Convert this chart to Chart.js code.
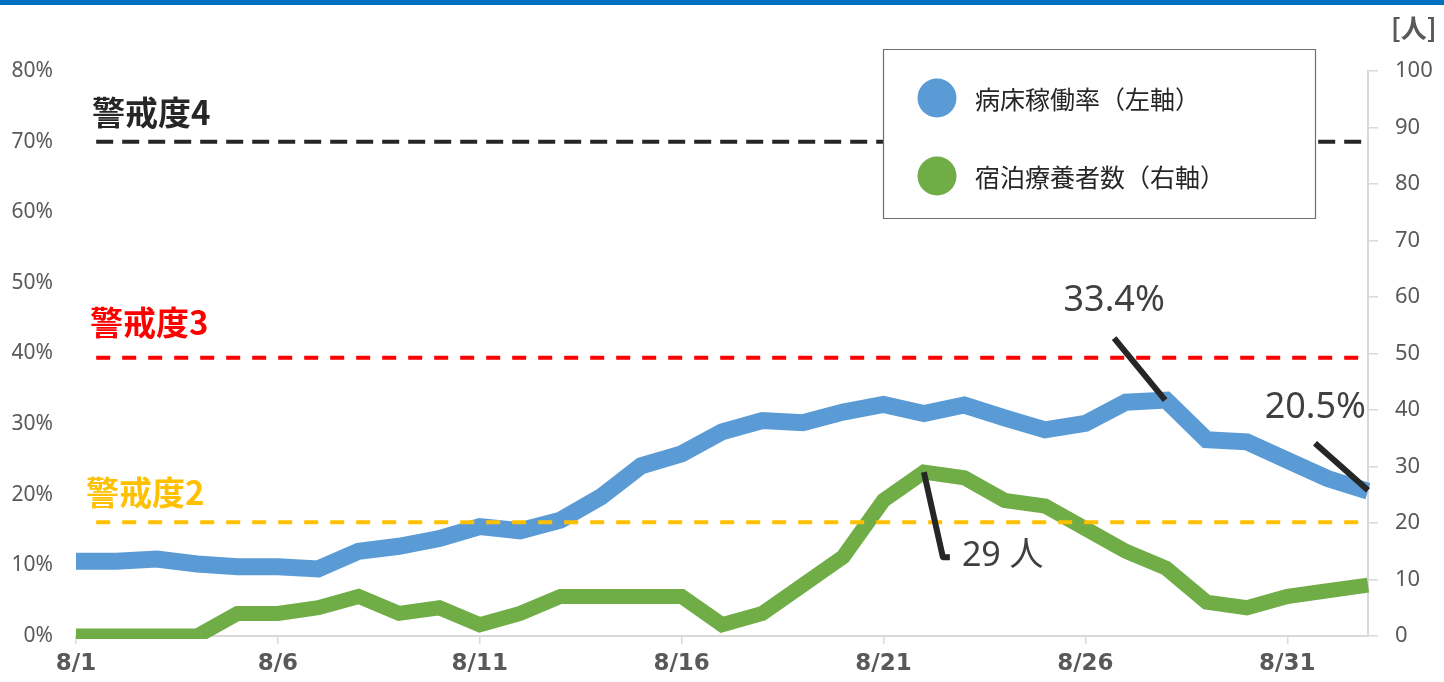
<!DOCTYPE html>
<html><head><meta charset="utf-8">
<script src="https://cdn.jsdelivr.net/npm/chart.js@4.4.1/dist/chart.umd.min.js"></script>
<style>html,body{margin:0;padding:0;background:#fff;overflow:hidden}#wrap{width:1444px;height:682px;position:relative}</style>
</head><body><div id="wrap"><canvas id="c" width="1444" height="682"></canvas></div>
<script>
const dates = ['8/1','8/2','8/3','8/4','8/5','8/6','8/7','8/8','8/9','8/10','8/11','8/12','8/13','8/14','8/15','8/16','8/17','8/18','8/19','8/20','8/21','8/22','8/23','8/24','8/25','8/26','8/27','8/28','8/29','8/30','8/31','9/1','9/2'];
const bedRate = [10.6,10.6,10.9,10.2,9.8,9.8,9.5,12.0,12.7,13.8,15.5,14.9,16.4,19.7,24.1,25.8,28.9,30.5,30.2,31.7,32.8,31.5,32.7,30.9,29.2,30.1,33.1,33.4,27.8,27.5,24.9,22.3,20.5];
const hotelPatients = [0,0,0,0,4,4,5,7,4,5,2,4,7,7,7,7,2,4,9,14,24,29,28,24,23,19,15,12,6,5,7,8,9];
const seriesNames = ['病床稼働率（左軸）','宿泊療養者数（右軸）'];
const alertNames = ['警戒度4','警戒度3','警戒度2'];
const alertValues = [70, 39.4, 16.1];
const alertSpan = [0.5, 31.9];
const leftTicks = [0,10,20,30,40,50,60,70,80];
const rightTicks = [0,10,20,30,40,50,60,70,80,90,100];
const rightUnit = '[人]';

const BLUE = '#5B9BD5', GREEN = '#70AD47';
const alertColors = ['#262626','#FF0000','#FFC000'];
const alertDash = [[17,9],[14,12],[14,12]];
const alertLabelOff = [[92,-29],[90,-35],[86,-30]];
const TXT = '#404040', AX = '#595959', GRID = '#D9D9D9';
const SANS = "'Noto Sans','Noto Sans CJK JP',sans-serif";
const CJK = "'Noto Sans CJK JP','Noto Sans',sans-serif";

const datasets = [];
alertValues.forEach((v,i)=>{
  datasets.push({label:alertNames[i], data:[{x:alertSpan[0],y:v},{x:alertSpan[1],y:v}], yAxisID:'y',
    borderColor:alertColors[i], borderWidth:4, borderDash:alertDash[i], pointRadius:0, order:0, clip:false});
});
datasets.push({label:seriesNames[0], data:bedRate.map((v,i)=>({x:i,y:v})), yAxisID:'y', borderColor:BLUE, backgroundColor:BLUE,
  borderWidth:17, pointRadius:0, tension:0, borderCapStyle:'butt', borderJoinStyle:'miter', order:2, clip:{left:0,right:2,top:20,bottom:3}});
datasets.push({label:seriesNames[1], data:hotelPatients.map((v,i)=>({x:i,y:v})), yAxisID:'y1', borderColor:GREEN, backgroundColor:GREEN,
  borderWidth:15, pointRadius:0, tension:0, borderCapStyle:'butt', borderJoinStyle:'miter', order:3, clip:{left:0,right:2,top:20,bottom:3}});

const deco = {
  id:'deco',
  beforeDraw(chart){
    const ctx = chart.ctx;
    ctx.save(); ctx.fillStyle='#0070C0'; ctx.fillRect(0,0,chart.width,5); ctx.restore();
  },
  afterDatasetsDraw(chart){
    const {ctx, scales:{x,y,y1}} = chart;
    ctx.save();
    alertNames.forEach((n,i)=>{
      ctx.font = "bold 33px "+CJK; ctx.fillStyle = alertColors[i]; ctx.textAlign='left'; ctx.textBaseline='middle';
      ctx.fillText(n, alertLabelOff[i][0], y.getPixelForValue(alertValues[i]) + alertLabelOff[i][1]);
    });
    ctx.strokeStyle='#262626'; ctx.lineWidth=6; ctx.lineCap='butt'; ctx.lineJoin='round';
    ctx.fillStyle=TXT; ctx.textBaseline='middle';
    const iMax = 27, iLast = bedRate.length-1, iPeak = 21;
    let px = x.getPixelForValue(iMax), py = y.getPixelForValue(bedRate[iMax]);
    ctx.beginPath(); ctx.moveTo(px-52,py-62); ctx.lineTo(px-1,py); ctx.stroke();
    ctx.font = "36px "+SANS; ctx.textAlign='center';
    ctx.fillText(bedRate[iMax].toFixed(1)+'%', px-52, py-99);
    px = x.getPixelForValue(iLast); py = y.getPixelForValue(bedRate[iLast]);
    ctx.beginPath(); ctx.moveTo(px-53,py-48); ctx.lineTo(px,py-1); ctx.stroke();
    ctx.textAlign='right';
    ctx.fillText(bedRate[iLast].toFixed(1)+'%', px-2, py-83);
    px = x.getPixelForValue(iPeak); py = y1.getPixelForValue(hotelPatients[iPeak]);
    ctx.beginPath(); ctx.moveTo(px,py); ctx.lineTo(px+19,py+85); ctx.lineTo(px+26,py+85); ctx.stroke();
    ctx.textAlign='left'; ctx.font = "34px "+SANS;
    ctx.fillText(hotelPatients[iPeak]+' 人', px+38, py+84);
    ctx.fillStyle='#fff'; ctx.fillRect(883.5,49.5,432,169);
    ctx.strokeStyle='#6f6f6f'; ctx.lineWidth=1.2; ctx.strokeRect(883.5,49.5,432,169);
    const cols=[BLUE,GREEN], ly=[98,176];
    seriesNames.forEach((n,i)=>{
      ctx.fillStyle=cols[i]; ctx.beginPath(); ctx.arc(937,ly[i],19.5,0,Math.PI*2); ctx.fill();
      ctx.fillStyle='#262626'; ctx.font="25px "+CJK; ctx.textAlign='left'; ctx.textBaseline='middle';
      ctx.fillText(n, 975, ly[i]+1);
    });
    ctx.fillStyle=AX; ctx.font="bold 26px "+CJK; ctx.textAlign='left'; ctx.textBaseline='middle';
    ctx.fillText(rightUnit, 1391, 28);
    ctx.restore();
  }
};

new Chart(document.getElementById('c'), {
  type:'line',
  data:{datasets},
  options:{
    responsive:false, animation:false, events:[],
    layout:{padding:{top:71,left:0,right:0,bottom:0}},
    plugins:{legend:{display:false}, tooltip:{enabled:false}},
    scales:{
      x:{type:'linear', position:'bottom', min:0, max:dates.length-1,
        afterBuildTicks(s){ s.ticks = dates.map((d,i)=>({value:i})).filter(t=>t.value%5===0); },
        afterFit(s){ s.height = 46; },
        grid:{drawOnChartArea:false, drawTicks:true, tickLength:8, color:GRID, lineWidth:1.5},
        border:{color:GRID, width:2},
        ticks:{autoSkip:false, maxRotation:0, padding:6, color:AX, font:{family:"'DejaVu Sans',sans-serif", size:23, weight:'bold'},
          callback:(v)=>dates[v]}
      },
      y:{position:'left', min:0, max:80,
        afterBuildTicks(s){ s.ticks = leftTicks.map(v=>({value:v})); },
        afterFit(s){ s.width = 76; },
        grid:{display:false, drawTicks:false}, border:{display:false},
        ticks:{padding:23, color:AX, font:{family:SANS, size:21}, callback:(v)=>v+'%'}
      },
      y1:{position:'right', min:0, max:100,
        afterBuildTicks(s){ s.ticks = rightTicks.map(v=>({value:v})); },
        afterFit(s){ s.width = 76; },
        grid:{drawOnChartArea:false, drawTicks:true, tickLength:10, color:GRID, lineWidth:1.5},
        border:{color:GRID, width:2},
        ticks:{padding:17, color:AX, font:{family:SANS, size:22}}
      }
    }
  },
  plugins:[deco]
});
</script></body></html>
